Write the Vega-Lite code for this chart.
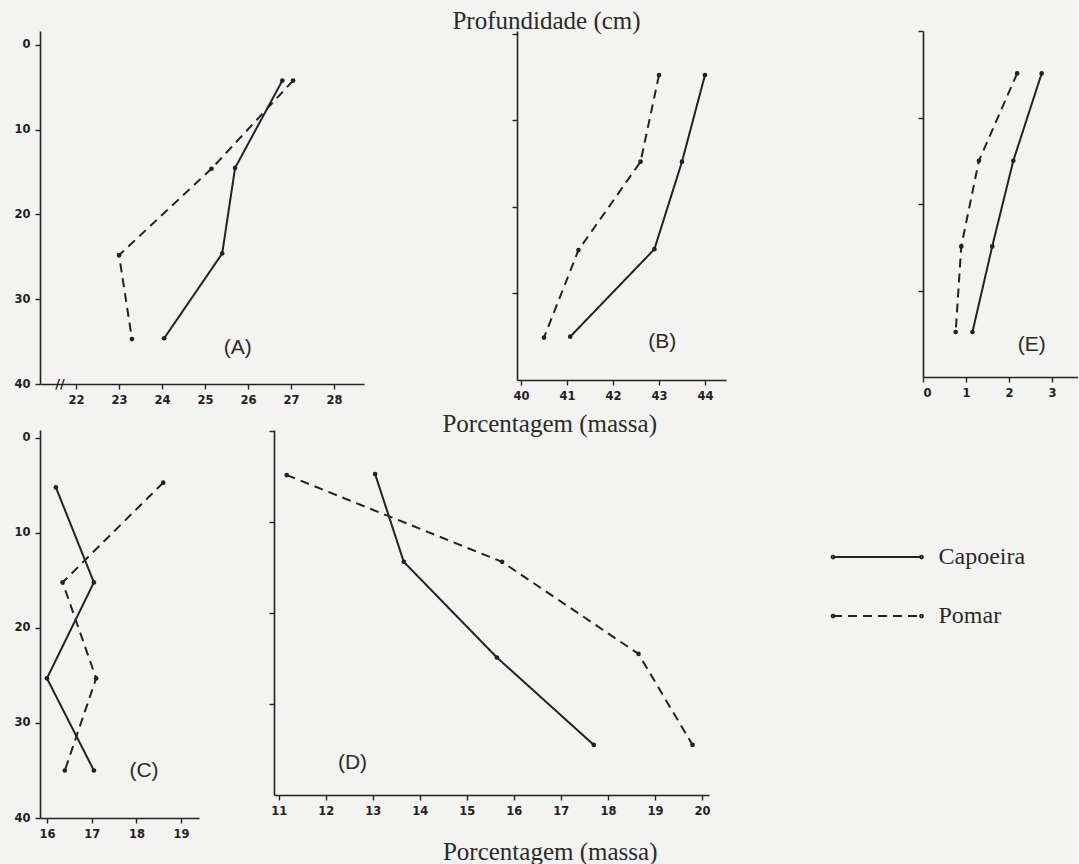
{
  "$schema": "https://vega.github.io/schema/vega-lite/v6.json",
  "background": "#f3f3f1",
  "padding": {"left": 13, "top": 8, "right": 0, "bottom": 0},
  "datasets": {
    "dados": [
      {"painel": "A", "serie": "Capoeira", "porcentagem": 26.8, "profundidade": 4.2},
      {"painel": "A", "serie": "Capoeira", "porcentagem": 25.7, "profundidade": 14.5},
      {"painel": "A", "serie": "Capoeira", "porcentagem": 25.4, "profundidade": 24.6},
      {"painel": "A", "serie": "Capoeira", "porcentagem": 24.05, "profundidade": 34.6},
      {"painel": "A", "serie": "Pomar", "porcentagem": 27.05, "profundidade": 4.2},
      {"painel": "A", "serie": "Pomar", "porcentagem": 25.15, "profundidade": 14.6},
      {"painel": "A", "serie": "Pomar", "porcentagem": 23.0, "profundidade": 24.8},
      {"painel": "A", "serie": "Pomar", "porcentagem": 23.3, "profundidade": 34.7},
      {"painel": "B", "serie": "Capoeira", "porcentagem": 44.0, "profundidade": 4.8},
      {"painel": "B", "serie": "Capoeira", "porcentagem": 43.5, "profundidade": 14.8},
      {"painel": "B", "serie": "Capoeira", "porcentagem": 42.9, "profundidade": 24.9},
      {"painel": "B", "serie": "Capoeira", "porcentagem": 41.07, "profundidade": 35.0},
      {"painel": "B", "serie": "Pomar", "porcentagem": 43.0, "profundidade": 4.8},
      {"painel": "B", "serie": "Pomar", "porcentagem": 42.6, "profundidade": 14.8},
      {"painel": "B", "serie": "Pomar", "porcentagem": 41.25, "profundidade": 25.0},
      {"painel": "B", "serie": "Pomar", "porcentagem": 40.5, "profundidade": 35.1},
      {"painel": "E", "serie": "Capoeira", "porcentagem": 2.76, "profundidade": 4.9},
      {"painel": "E", "serie": "Capoeira", "porcentagem": 2.1, "profundidade": 15.0},
      {"painel": "E", "serie": "Capoeira", "porcentagem": 1.61, "profundidade": 24.9},
      {"painel": "E", "serie": "Capoeira", "porcentagem": 1.15, "profundidade": 34.8},
      {"painel": "E", "serie": "Pomar", "porcentagem": 2.19, "profundidade": 4.9},
      {"painel": "E", "serie": "Pomar", "porcentagem": 1.3, "profundidade": 15.0},
      {"painel": "E", "serie": "Pomar", "porcentagem": 0.89, "profundidade": 24.9},
      {"painel": "E", "serie": "Pomar", "porcentagem": 0.76, "profundidade": 34.8},
      {"painel": "C", "serie": "Capoeira", "porcentagem": 16.2, "profundidade": 5.2},
      {"painel": "C", "serie": "Capoeira", "porcentagem": 17.05, "profundidade": 15.2},
      {"painel": "C", "serie": "Capoeira", "porcentagem": 16.0, "profundidade": 25.3},
      {"painel": "C", "serie": "Capoeira", "porcentagem": 17.05, "profundidade": 35.0},
      {"painel": "C", "serie": "Pomar", "porcentagem": 18.6, "profundidade": 4.7},
      {"painel": "C", "serie": "Pomar", "porcentagem": 16.35, "profundidade": 15.2},
      {"painel": "C", "serie": "Pomar", "porcentagem": 17.1, "profundidade": 25.3},
      {"painel": "C", "serie": "Pomar", "porcentagem": 16.4, "profundidade": 35.0},
      {"painel": "D", "serie": "Capoeira", "porcentagem": 13.05, "profundidade": 4.76},
      {"painel": "D", "serie": "Capoeira", "porcentagem": 13.66, "profundidade": 14.4},
      {"painel": "D", "serie": "Capoeira", "porcentagem": 15.64, "profundidade": 24.9},
      {"painel": "D", "serie": "Capoeira", "porcentagem": 17.7, "profundidade": 34.5},
      {"painel": "D", "serie": "Pomar", "porcentagem": 11.17, "profundidade": 4.87},
      {"painel": "D", "serie": "Pomar", "porcentagem": 15.75, "profundidade": 14.4},
      {"painel": "D", "serie": "Pomar", "porcentagem": 18.65, "profundidade": 24.5},
      {"painel": "D", "serie": "Pomar", "porcentagem": 19.8, "profundidade": 34.5}
    ]
  },
  "spacing": 6,
  "resolve": {"scale": {"x": "independent", "y": "independent", "strokeDash": "independent"}, "axis": {"x": "independent", "y": "independent"}, "legend": {"strokeDash": "independent"}},
  "vconcat": [
    {
      "spacing": 75,
      "bounds": "flush",
      "resolve": {"scale": {"x": "independent", "y": "independent", "strokeDash": "independent"}, "axis": {"x": "independent", "y": "independent"}, "legend": {"strokeDash": "independent"}},
      "hconcat": [
        {
          "width": 324, "height": 353,
          "layer": [
            {
              "data": {"name": "dados"},
              "transform": [{"filter": {"field": "painel", "equal": "A"}}],
              "mark": {"type": "line", "color": "#222", "strokeWidth": 2},
              "encoding": {
                "x": {"field": "porcentagem", "type": "quantitative", "scale": {"domain": [21.16, 28.7], "nice": false, "zero": false}, "axis": {"values": [22, 23, 24, 25, 26, 27, 28], "title": null}},
                "y": {"field": "profundidade", "type": "quantitative", "scale": {"domain": [-1.65, 40], "reverse": true, "nice": false, "zero": false}, "axis": {"values": [0, 10, 20, 30, 40], "title": null}},
                "strokeDash": {"field": "serie", "type": "nominal", "scale": {"domain": ["Capoeira", "Pomar"], "range": [[1, 0], [9, 6]]}, "legend": null},
                "order": {"field": "profundidade", "type": "quantitative"}
              }
            },
            {
              "data": {"name": "dados"},
              "transform": [{"filter": {"field": "painel", "equal": "A"}}],
              "mark": {"type": "point", "filled": true, "size": 22, "color": "#222", "opacity": 1},
              "encoding": {"x": {"field": "porcentagem", "type": "quantitative"}, "y": {"field": "profundidade", "type": "quantitative"}}
            },
            {"data": {"values": [{}]}, "mark": {"type": "text", "font": "Liberation Sans", "fontSize": 21, "color": "#2a2a2a"}, "encoding": {"x": {"datum": 25.76}, "y": {"datum": 35.75}, "text": {"value": "(A)"}}},
            {"data": {"values": [{}]}, "mark": {"type": "text", "font": "DejaVu Sans", "fontWeight": "bold", "fontSize": 13, "color": "#222"}, "encoding": {"x": {"datum": 21.625}, "y": {"datum": 40}, "text": {"value": "//"}}}
          ]
        },
        {"width": 3, "height": 10, "data": {"values": []}, "mark": "point", "encoding": {}},
        {
          "width": 209, "height": 349,
          "layer": [
            {
              "data": {"name": "dados"},
              "transform": [{"filter": {"field": "painel", "equal": "B"}}],
              "mark": {"type": "line", "color": "#222", "strokeWidth": 2},
              "encoding": {
                "x": {"field": "porcentagem", "type": "quantitative", "scale": {"domain": [39.913, 44.457], "nice": false, "zero": false}, "axis": {"values": [40, 41, 42, 43, 44], "title": null}},
                "y": {"field": "profundidade", "type": "quantitative", "scale": {"domain": [-0.29, 40], "reverse": true, "nice": false, "zero": false}, "axis": {"values": [0, 10, 20, 30], "labels": false, "title": "Profundidade (cm)", "titleAngle": 0, "titleX": 29, "titleY": -11, "titleAlign": "center", "titleBaseline": "middle"}},
                "strokeDash": {"field": "serie", "type": "nominal", "scale": {"domain": ["Capoeira", "Pomar"], "range": [[1, 0], [9, 6]]}, "legend": null},
                "order": {"field": "profundidade", "type": "quantitative"}
              }
            },
            {
              "data": {"name": "dados"},
              "transform": [{"filter": {"field": "painel", "equal": "B"}}],
              "mark": {"type": "point", "filled": true, "size": 22, "color": "#222", "opacity": 1},
              "encoding": {"x": {"field": "porcentagem", "type": "quantitative"}, "y": {"field": "profundidade", "type": "quantitative"}}
            },
            {"data": {"values": [{}]}, "mark": {"type": "text", "font": "Liberation Sans", "fontSize": 21, "color": "#2a2a2a"}, "encoding": {"x": {"datum": 43.07}, "y": {"datum": 35.6}, "text": {"value": "(B)"}}}
          ]
        },
        {"width": 47, "height": 10, "data": {"values": []}, "mark": "point", "encoding": {}},
        {
          "width": 155, "height": 346,
          "layer": [
            {
              "data": {"name": "dados"},
              "transform": [{"filter": {"field": "painel", "equal": "E"}}],
              "mark": {"type": "line", "color": "#222", "strokeWidth": 2},
              "encoding": {
                "x": {"field": "porcentagem", "type": "quantitative", "scale": {"domain": [0, 3.605], "nice": false, "zero": false}, "axis": {"values": [0, 1, 2, 3], "title": null}},
                "y": {"field": "profundidade", "type": "quantitative", "scale": {"domain": [0, 40], "reverse": true, "nice": false, "zero": false}, "axis": {"values": [0, 10, 20, 30], "labels": false, "title": null}},
                "strokeDash": {"field": "serie", "type": "nominal", "scale": {"domain": ["Capoeira", "Pomar"], "range": [[1, 0], [9, 6]]}, "legend": null},
                "order": {"field": "profundidade", "type": "quantitative"}
              }
            },
            {
              "data": {"name": "dados"},
              "transform": [{"filter": {"field": "painel", "equal": "E"}}],
              "mark": {"type": "point", "filled": true, "size": 22, "color": "#222", "opacity": 1},
              "encoding": {"x": {"field": "porcentagem", "type": "quantitative"}, "y": {"field": "profundidade", "type": "quantitative"}}
            },
            {"data": {"values": [{}]}, "mark": {"type": "text", "font": "Liberation Sans", "fontSize": 21, "color": "#2a2a2a"}, "encoding": {"x": {"datum": 2.53}, "y": {"datum": 36.3}, "text": {"value": "(E)"}}}
          ]
        }
      ]
    },
    {
      "spacing": 75,
      "bounds": "flush",
      "resolve": {"scale": {"x": "independent", "y": "independent", "strokeDash": "independent"}, "axis": {"x": "independent", "y": "independent"}, "legend": {"strokeDash": "independent"}},
      "hconcat": [
        {
          "width": 159, "height": 388,
          "layer": [
            {
              "data": {"name": "dados"},
              "transform": [{"filter": {"field": "painel", "equal": "C"}}],
              "mark": {"type": "line", "color": "#222", "strokeWidth": 2},
              "encoding": {
                "x": {"field": "porcentagem", "type": "quantitative", "scale": {"domain": [15.845, 19.4], "nice": false, "zero": false}, "axis": {"values": [16, 17, 18, 19], "title": null}},
                "y": {"field": "profundidade", "type": "quantitative", "scale": {"domain": [-0.84, 40], "reverse": true, "nice": false, "zero": false}, "axis": {"values": [0, 10, 20, 30, 40], "title": null}},
                "strokeDash": {"field": "serie", "type": "nominal", "scale": {"domain": ["Capoeira", "Pomar"], "range": [[1, 0], [9, 6]]}, "legend": null},
                "order": {"field": "profundidade", "type": "quantitative"}
              }
            },
            {
              "data": {"name": "dados"},
              "transform": [{"filter": {"field": "painel", "equal": "C"}}],
              "mark": {"type": "point", "filled": true, "size": 22, "color": "#222", "opacity": 1},
              "encoding": {"x": {"field": "porcentagem", "type": "quantitative"}, "y": {"field": "profundidade", "type": "quantitative"}}
            },
            {"data": {"values": [{}]}, "mark": {"type": "text", "font": "Liberation Sans", "fontSize": 21, "color": "#2a2a2a"}, "encoding": {"x": {"datum": 18.17}, "y": {"datum": 35.1}, "text": {"value": "(C)"}}}
          ]
        },
        {
          "width": 435, "height": 365,
          "title": {"text": "Porcentagem (massa)", "anchor": "middle", "dx": 58.2, "offset": -19, "baseline": "middle", "font": "Liberation Serif", "fontSize": 25, "fontWeight": "normal", "color": "#2a2a2a"},
          "layer": [
            {
              "data": {"name": "dados"},
              "transform": [{"filter": {"field": "painel", "equal": "D"}}],
              "mark": {"type": "line", "color": "#222", "strokeWidth": 2},
              "encoding": {
                "x": {"field": "porcentagem", "type": "quantitative", "scale": {"domain": [10.9, 20.15], "nice": false, "zero": false}, "axis": {"values": [11, 12, 13, 14, 15, 16, 17, 18, 19, 20], "title": "Porcentagem (massa)", "titleAngle": 0, "titleX": 275.7, "titleY": 56, "titleAlign": "center", "titleBaseline": "middle"}},
                "y": {"field": "profundidade", "type": "quantitative", "scale": {"domain": [-0.08, 40], "reverse": true, "nice": false, "zero": false}, "axis": {"values": [0, 10, 20, 30], "labels": false, "title": null}},
                "strokeDash": {"field": "serie", "type": "nominal", "scale": {"domain": ["Capoeira", "Pomar"], "range": [[1, 0], [9, 6]]}, "legend": {"title": null, "orient": "none", "legendX": 572.75, "legendY": 96.5, "symbolType": "M-1.5,0L1.5,0M-1.55,0A0.05,0.05,0,1,1,-1.45,0A0.05,0.05,0,1,1,-1.55,0M1.45,0A0.05,0.05,0,1,1,1.55,0A0.05,0.05,0,1,1,1.45,0", "symbolSize": 3481, "symbolStrokeWidth": 1.8, "symbolStrokeColor": "#222", "symbolFillColor": "transparent", "labelFont": "Liberation Serif", "labelFontSize": 24, "labelColor": "#2a2a2a", "labelOffset": 30.75, "rowPadding": 16, "padding": 0}},
                "order": {"field": "profundidade", "type": "quantitative"}
              }
            },
            {
              "data": {"name": "dados"},
              "transform": [{"filter": {"field": "painel", "equal": "D"}}],
              "mark": {"type": "point", "filled": true, "size": 22, "color": "#222", "opacity": 1},
              "encoding": {"x": {"field": "porcentagem", "type": "quantitative"}, "y": {"field": "profundidade", "type": "quantitative"}}
            },
            {"data": {"values": [{}]}, "mark": {"type": "text", "font": "Liberation Sans", "fontSize": 21, "color": "#2a2a2a"}, "encoding": {"x": {"datum": 12.57}, "y": {"datum": 36.5}, "text": {"value": "(D)"}}}
          ]
        }
      ]
    }
  ],
  "config": {
    "view": {"stroke": null},
    "axis": {"grid": false, "domainColor": "#222", "domainWidth": 1.6, "tickColor": "#222", "tickWidth": 1.4, "tickSize": 5, "labelFont": "DejaVu Sans", "labelFontWeight": "bold", "labelFontSize": 11.5, "labelColor": "#222", "labelPadding": 5, "titleFont": "Liberation Serif", "titleFontSize": 25, "titleFontWeight": "normal", "titleColor": "#2a2a2a"}
  }
}
